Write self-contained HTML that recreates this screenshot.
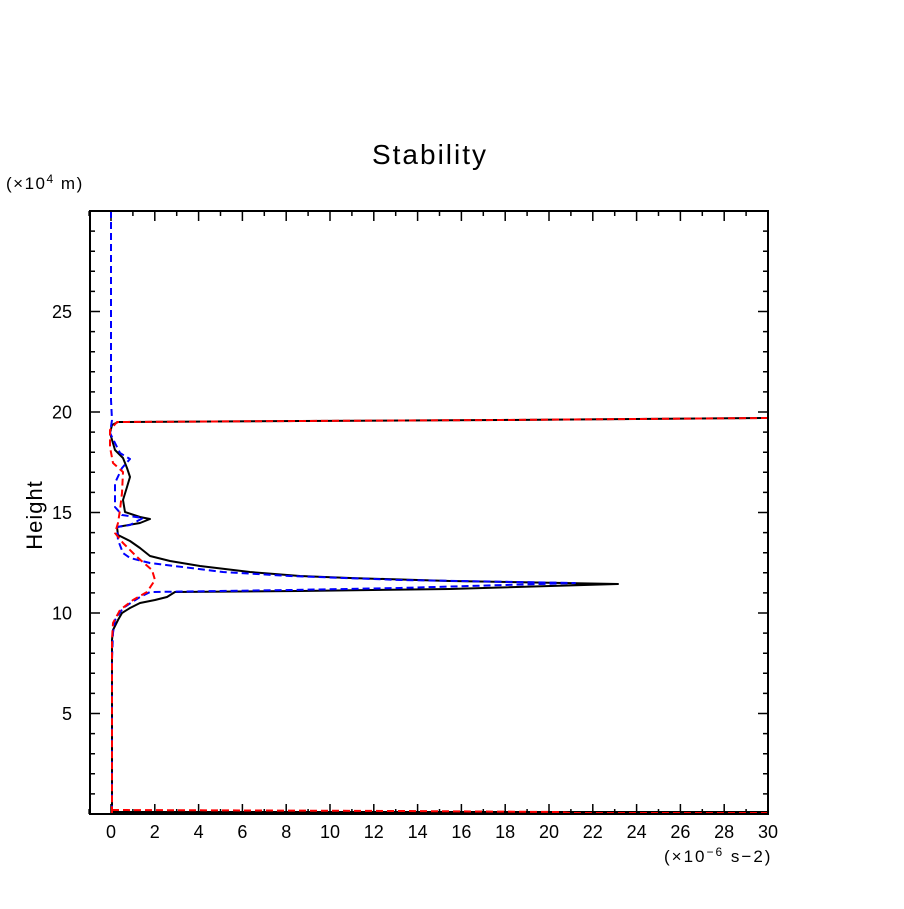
<!DOCTYPE html>
<html><head><style>body{margin:0;background:#fff}svg text{font-family:"Liberation Sans",sans-serif}</style></head>
<body>
<svg width="904" height="904" xmlns="http://www.w3.org/2000/svg">
<rect width="904" height="904" fill="#fff"/>
<text x="430" y="164" font-size="28" letter-spacing="2" text-anchor="middle">Stability</text>
<text x="6" y="189" font-size="17" letter-spacing="1.5">(×10<tspan font-size="12" dy="-6">4</tspan><tspan dy="6"> m)</tspan></text>
<text x="664" y="862" font-size="17" letter-spacing="2">(×10<tspan font-size="12" dy="-6">−6</tspan><tspan dy="6"> s−2)</tspan></text>
<text transform="translate(42,515) rotate(-90)" font-size="22" letter-spacing="1" text-anchor="middle">Height</text>
<path stroke="#000" stroke-width="1.5" fill="none" d="
M89.1 814v-5M89.1 211v5M111 814v-10M111 211v10M132.9 814v-5M132.9 211v5M154.8 814v-10M154.8 211v10M176.7 814v-5M176.7 211v5M198.6 814v-10M198.6 211v10M220.5 814v-5M220.5 211v5M242.4 814v-10M242.4 211v10M264.3 814v-5M264.3 211v5M286.2 814v-10M286.2 211v10M308.1 814v-5M308.1 211v5M330 814v-10M330 211v10M351.9 814v-5M351.9 211v5M373.8 814v-10M373.8 211v10M395.7 814v-5M395.7 211v5M417.6 814v-10M417.6 211v10M439.5 814v-5M439.5 211v5M461.4 814v-10M461.4 211v10M483.3 814v-5M483.3 211v5M505.2 814v-10M505.2 211v10M527.1 814v-5M527.1 211v5M549 814v-10M549 211v10M570.9 814v-5M570.9 211v5M592.8 814v-10M592.8 211v10M614.7 814v-5M614.7 211v5M636.6 814v-10M636.6 211v10M658.5 814v-5M658.5 211v5M680.4 814v-10M680.4 211v10M702.3 814v-5M702.3 211v5M724.2 814v-10M724.2 211v10M746.1 814v-5M746.1 211v5
M90 793.9h5M768 793.9h-5M90 773.8h5M768 773.8h-5M90 753.7h5M768 753.7h-5M90 733.6h5M768 733.6h-5M90 713.5h10M768 713.5h-10M90 693.4h5M768 693.4h-5M90 673.3h5M768 673.3h-5M90 653.2h5M768 653.2h-5M90 633.1h5M768 633.1h-5M90 613h10M768 613h-10M90 592.9h5M768 592.9h-5M90 572.8h5M768 572.8h-5M90 552.7h5M768 552.7h-5M90 532.6h5M768 532.6h-5M90 512.5h10M768 512.5h-10M90 492.4h5M768 492.4h-5M90 472.3h5M768 472.3h-5M90 452.2h5M768 452.2h-5M90 432.1h5M768 432.1h-5M90 412h10M768 412h-10M90 391.9h5M768 391.9h-5M90 371.8h5M768 371.8h-5M90 351.7h5M768 351.7h-5M90 331.6h5M768 331.6h-5M90 311.5h10M768 311.5h-10M90 291.4h5M768 291.4h-5M90 271.3h5M768 271.3h-5M90 251.2h5M768 251.2h-5M90 231.1h5M768 231.1h-5"/>
<g font-size="18" text-anchor="middle">
<text x="111" y="838">0</text><text x="154.8" y="838">2</text><text x="198.6" y="838">4</text><text x="242.4" y="838">6</text><text x="286.2" y="838">8</text><text x="330" y="838">10</text><text x="373.8" y="838">12</text><text x="417.6" y="838">14</text><text x="461.4" y="838">16</text><text x="505.2" y="838">18</text><text x="549" y="838">20</text><text x="592.8" y="838">22</text><text x="636.6" y="838">24</text><text x="680.4" y="838">26</text><text x="724.2" y="838">28</text><text x="768" y="838">30</text>
</g>
<g font-size="18" text-anchor="end">
<text x="72" y="720">5</text><text x="72" y="619.5">10</text><text x="72" y="519">15</text><text x="72" y="418.5">20</text><text x="72" y="318">25</text>
</g>
<g fill="none" stroke-width="2" stroke-linejoin="round">
<polyline stroke="#000" points="112,814 112,640 113,630 118,620 122,613 130,608 140,603 155,600 167,597 175,592 300,591 450,589 618,584 450,581 350,578 300,576 250,572 200,566 170,561 150,556 140,548 130,541 118,535 117,527 140,523 150,519 140,517 125,512 123,500 127,487 130,477 127,468 123,458 115,450 110,433 112,425 118,422 300,421 500,420 768,418"/>
<polyline stroke="#000" points="112,812 440,812 768,812"/>
<polyline stroke="#00f" stroke-dasharray="7,4" points="111,211 111,400 112,420 110,433 120,453 130,459 122,468 115,483 115,507 122,515 143,518 130,525 117,527 118,540 123,553 130,558 150,563 223,572 290,576 400,580 575,583 400,588 290,590 150,592 140,597 123,608 115,620 113,633 112,660 112,814"/>
<polyline stroke="#f00" stroke-dasharray="7,4" points="768,418 500,420 300,421 117,422 110,430 110,447 113,463 123,472 122,493 120,510 118,523 115,533 123,543 137,557 152,570 155,580 147,592 133,600 120,610 113,623 112,640 112,814"/>
<polyline stroke="#f00" stroke-dasharray="7,4" points="112,810 400,811 560,812 570,813 768,813"/>
</g>
<rect x="90" y="211" width="678" height="603" fill="none" stroke="#000" stroke-width="2"/>
</svg>
</body></html>
